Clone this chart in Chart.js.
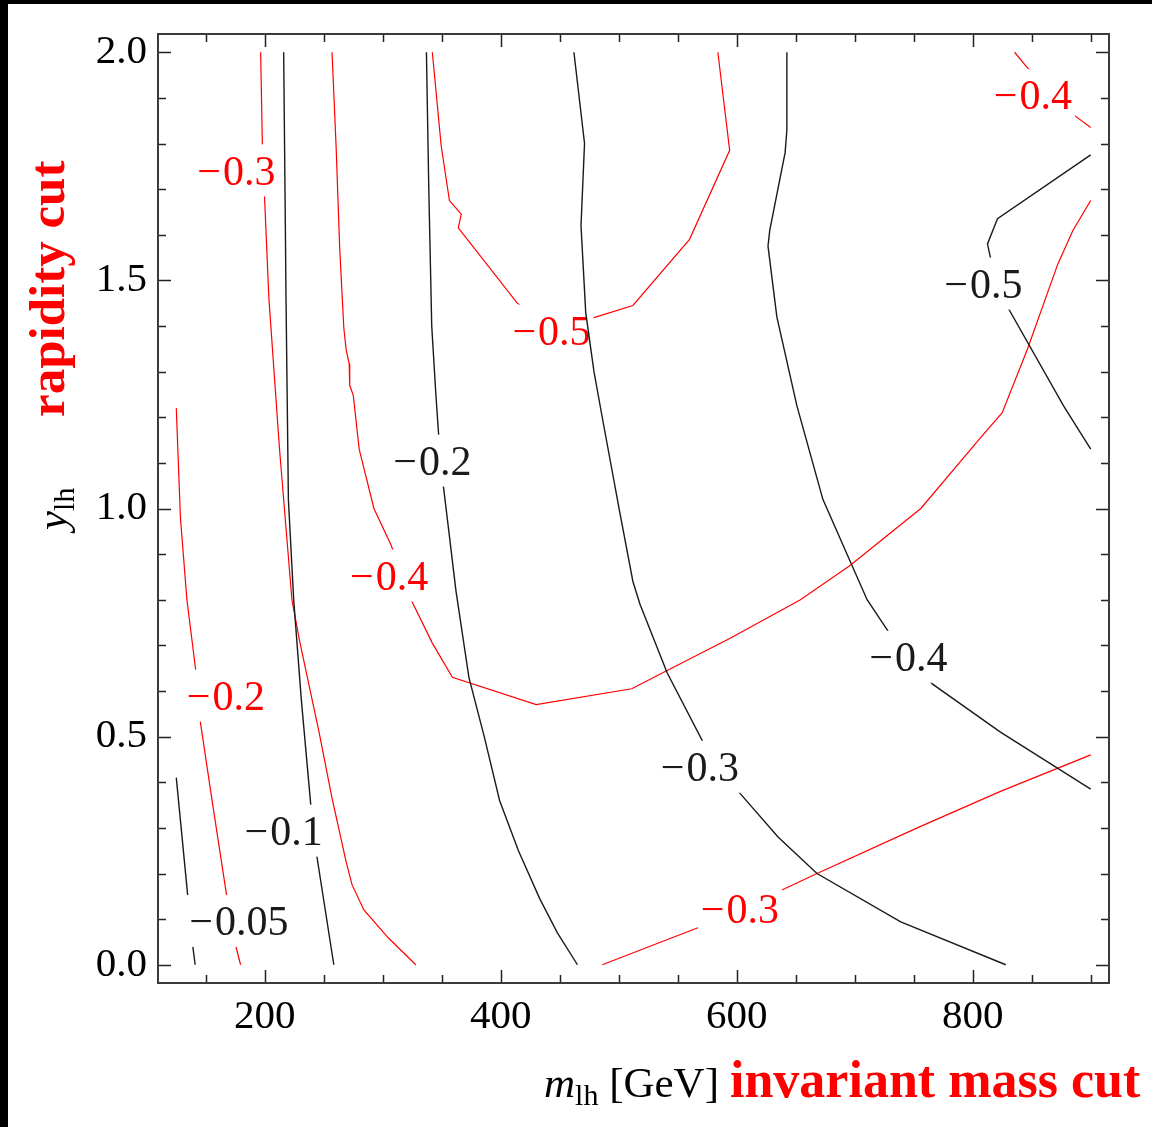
<!DOCTYPE html>
<html>
<head>
<meta charset="utf-8">
<script src="https://cdn.jsdelivr.net/npm/chart.js@4.4.1/dist/chart.umd.min.js"></script>
<style>
  body { margin: 0; background: #000; }
  #wrap { position: absolute; left: 8px; top: 4px; width: 1144px; height: 1123px; background: #fff; }
</style>
</head>
<body>
<div id="wrap"><canvas id="c" width="1144" height="1123"></canvas></div>
<script>
// --- eixos ---
const xTicks = [150, 200, 250, 300, 350, 400, 450, 500, 550, 600, 650, 700, 750, 800, 850, 900];
const xMajor = [200, 400, 600, 800];
const yTicks = [0, 0.1, 0.2, 0.3, 0.4, 0.5, 0.6, 0.7, 0.8, 0.9, 1.0, 1.1, 1.2, 1.3, 1.4, 1.5, 1.6, 1.7, 1.8, 1.9, 2.0];
const yMajor = [0, 0.5, 1.0, 1.5, 2.0];

// --- contornos pretos [m_lh, y_lh] ---
const blk005 = [[125, 0.41], [129.5, 0.29], [134, 0.17], [138, 0.06], [141, 0.0]];
const blk01 = [[216, 2.0], [217.5, 1.6], [218, 1.46], [220, 1.02], [224.5, 0.80], [231, 0.58], [239, 0.35], [244, 0.24], [258.5, 0.0]];
const blk02 = [[337, 2.0], [339, 1.70], [341.5, 1.40], [345, 1.25], [349, 1.10], [356, 0.95], [362, 0.82], [373, 0.63], [386, 0.50], [399, 0.36], [415, 0.25], [433, 0.145], [448, 0.07], [465, 0.0]];
const blk03 = [[462, 2.0], [471, 1.80], [468, 1.62], [472, 1.43], [479, 1.30], [486, 1.20], [501, 0.99], [512, 0.84], [518, 0.79], [541, 0.64], [571, 0.49], [603, 0.375], [635, 0.28], [668, 0.20], [739, 0.094], [828, 0.0]];
const blk04 = [[642.5, 2.0], [642.5, 1.83], [641, 1.78], [628, 1.61], [626.5, 1.575], [634, 1.42], [651, 1.225], [673, 1.02], [696, 0.885], [710.5, 0.80], [728.5, 0.73], [766, 0.615], [823.5, 0.51], [900, 0.385]];
const blk05 = [[900, 1.775], [821, 1.635], [812.5, 1.58], [815, 1.55], [831, 1.435], [877, 1.225], [900, 1.13]];

// --- contornos vermelhos ---
const red02 = [[125, 1.22], [128.5, 0.98], [134, 0.80], [141.5, 0.645], [145.5, 0.53], [156.5, 0.34], [167.5, 0.155], [175.5, 0.04], [179.5, 0.0]];
const red03a = [[196.5, 2.0], [198, 1.79], [203.5, 1.46], [212.5, 1.13], [223, 0.80], [229.5, 0.71], [246, 0.51], [257, 0.365], [269, 0.225], [274, 0.175], [284, 0.12], [305, 0.058], [328, 0.0]];
const red04a = [[257, 2.0], [260.5, 1.79], [263.5, 1.57], [267, 1.395], [269, 1.347], [271.5, 1.318], [272, 1.27], [275, 1.248], [280, 1.13], [292.5, 1.0], [307, 0.92], [324, 0.80], [342, 0.705], [359, 0.63], [430, 0.57], [511, 0.605], [541, 0.645], [594, 0.715], [654, 0.80], [696, 0.875], [756, 1.0], [806.5, 1.155], [825, 1.21], [846.5, 1.35], [872, 1.535], [885, 1.61], [900, 1.675]];
const red05 = [[342, 2.0], [349.5, 1.795], [356.5, 1.675], [366.5, 1.645], [364, 1.615], [414, 1.45], [441, 1.395], [481, 1.42], [512, 1.445], [560, 1.59], [594, 1.785], [584, 2.0]];
const red04b = [[835.5, 2.0], [845, 1.97], [866, 1.91], [887, 1.86], [900, 1.835]];
const red03b = [[486, 0.0], [566, 0.08], [603, 0.125], [641, 0.167], [668, 0.20], [753, 0.30], [823.5, 0.38], [900, 0.46]];

// --- rótulos dos contornos [texto, m_lh, y_lh] ---
const blackLabels = [["0.05", 178, 0.096], ["0.1", 216, 0.294], ["0.2", 342, 1.105], ["0.3", 568.7, 0.434], ["0.4", 745.5, 0.675], ["0.5", 809, 1.493]];
const redLabels = [["0.3", 176, 1.741], ["0.2", 167, 0.590], ["0.4", 305.4, 0.853], ["0.5", 443, 1.390], ["0.4", 851, 1.906], ["0.3", 602.7, 0.123]];

const BLACK = "#1a1a1a";
const RED = "#ff0000";
const SERIF = '"Liberation Serif", "Times New Roman", serif';
const LABEL_SIZE = 42;

function line(data, color, group) {
  return {
    data: data, showLine: true, borderColor: color, borderWidth: group === "black" ? 1.4 : 1.2,
    pointRadius: 0, fill: false, tension: 0, group: group, order: group === "black" ? 1 : 2
  };
}

// rótulo com caixa branca; o sinal de menos fica um pouco afastado, como no Mathematica
function drawLabels(chart, list, color) {
  const ctx = chart.ctx, xs = chart.scales.x, ys = chart.scales.y;
  ctx.save();
  ctx.font = `${LABEL_SIZE}px ${SERIF}`;
  ctx.textAlign = "left";
  ctx.textBaseline = "alphabetic";
  const gap = 2;
  const wMinus = ctx.measureText("−").width;
  list.forEach(([txt, vx, vy]) => {
    const px = xs.getPixelForValue(vx), py = ys.getPixelForValue(vy);
    const w = wMinus + gap + ctx.measureText(txt).width;
    const x0 = px - w / 2;
    ctx.fillStyle = "#fff";
    ctx.fillRect(x0 - 3, py - 26, w + 6, 52);
    ctx.fillStyle = color;
    const by = py + 0.338 * LABEL_SIZE;
    ctx.fillText("−", x0, by);
    ctx.fillText(txt, x0 + wMinus + gap, by);
  });
  ctx.restore();
}

const decor = {
  id: "decor",
  beforeDatasetsDraw(chart) { chart.$redDone = false; },
  beforeDatasetDraw(chart, args) {
    const ds = chart.data.datasets[args.index];
    if (!chart.$redDone && ds.group === "black") {
      drawLabels(chart, redLabels, RED);
      chart.$redDone = true;
    }
  },
  afterDatasetsDraw(chart) {
    if (!chart.$redDone) drawLabels(chart, redLabels, RED);
    drawLabels(chart, blackLabels, BLACK);
  },
  afterDraw(chart) {
    const ctx = chart.ctx, a = chart.chartArea, xs = chart.scales.x, ys = chart.scales.y;
    ctx.save();
    // ticks para dentro, nos quatro lados
    ctx.strokeStyle = "#222";
    ctx.lineWidth = 1.5;
    ctx.beginPath();
    xs.ticks.forEach(t => {
      const p = Math.round(xs.getPixelForValue(t.value)) + 0.5;
      const len = xMajor.includes(t.value) ? 13 : 8;
      ctx.moveTo(p, a.bottom); ctx.lineTo(p, a.bottom - len);
      ctx.moveTo(p, a.top); ctx.lineTo(p, a.top + len);
    });
    ys.ticks.forEach(t => {
      const p = Math.round(ys.getPixelForValue(t.value)) + 0.5;
      const len = yMajor.includes(t.value) ? 13 : 8;
      ctx.moveTo(a.left, p); ctx.lineTo(a.left + len, p);
      ctx.moveTo(a.right, p); ctx.lineTo(a.right - len, p);
    });
    ctx.stroke();
    // moldura
    ctx.strokeStyle = "#3a3a3a";
    ctx.lineWidth = 2;
    ctx.strokeRect(a.left, a.top, a.right - a.left, a.bottom - a.top);

    // título do eixo x
    let x = 536;
    const base = 1093;
    ctx.fillStyle = "#000";
    ctx.textBaseline = "alphabetic";
    ctx.textAlign = "left";
    ctx.font = `italic 43px ${SERIF}`;
    ctx.fillText("m", x, base);
    x += ctx.measureText("m").width;
    ctx.font = `30px ${SERIF}`;
    ctx.fillText("lh", x, base + 8);
    x += ctx.measureText("lh").width;
    ctx.font = `43px ${SERIF}`;
    ctx.fillText(" [GeV]", x, base);
    ctx.fillStyle = RED;
    ctx.font = `bold 52px ${SERIF}`;
    ctx.fillText("invariant mass cut", 722, base);

    // título do eixo y (rodado)
    ctx.save();
    ctx.translate(56, 413);
    ctx.rotate(-Math.PI / 2);
    ctx.fillStyle = RED;
    ctx.font = `bold 51px ${SERIF}`;
    ctx.fillText("rapidity cut", 0, 0);
    ctx.restore();

    ctx.save();
    ctx.translate(58, 526);
    ctx.rotate(-Math.PI / 2);
    ctx.fillStyle = "#000";
    ctx.font = `italic 43px ${SERIF}`;
    ctx.fillText("y", 0, 0);
    const w = ctx.measureText("y").width;
    ctx.font = `30px ${SERIF}`;
    ctx.fillText("lh", w, 8);
    ctx.restore();

    ctx.restore();
  }
};

new Chart(document.getElementById("c"), {
  type: "scatter",
  data: {
    datasets: [
      line(blk005, BLACK, "black"), line(blk01, BLACK, "black"), line(blk02, BLACK, "black"),
      line(blk03, BLACK, "black"), line(blk04, BLACK, "black"), line(blk05, BLACK, "black"),
      line(red02, RED, "red"), line(red03a, RED, "red"), line(red04a, RED, "red"),
      line(red05, RED, "red"), line(red04b, RED, "red"), line(red03b, RED, "red")
    ]
  },
  options: {
    responsive: false,
    devicePixelRatio: 1,
    animation: false,
    layout: { padding: { left: 0, top: 30, right: 43, bottom: 0 } },
    plugins: { legend: { display: false }, tooltip: { enabled: false } },
    scales: {
      x: {
        type: "linear", min: 109.5, max: 915.5,
        grid: { display: false, drawTicks: false }, border: { display: false },
        afterBuildTicks: s => { s.ticks = xTicks.map(v => ({ value: v })); },
        afterFit: s => { s.height = 144; s.paddingLeft = 0; s.paddingRight = 0; },
        ticks: {
          autoSkip: false, maxRotation: 0, padding: 10, color: "#000",
          font: { family: SERIF, size: 41 },
          callback: v => xMajor.includes(v) ? String(v) : ""
        }
      },
      y: {
        type: "linear", min: -0.04, max: 2.04,
        grid: { display: false, drawTicks: false }, border: { display: false },
        afterBuildTicks: s => { s.ticks = yTicks.map(v => ({ value: v })); },
        afterFit: s => { s.width = 150; s.paddingTop = 0; s.paddingBottom = 0; },
        ticks: {
          autoSkip: false, padding: 11, color: "#000",
          font: { family: SERIF, size: 41 },
          callback: v => yMajor.includes(v) ? v.toFixed(1) : ""
        }
      }
    }
  },
  plugins: [decor]
});
</script>
</body>
</html>
